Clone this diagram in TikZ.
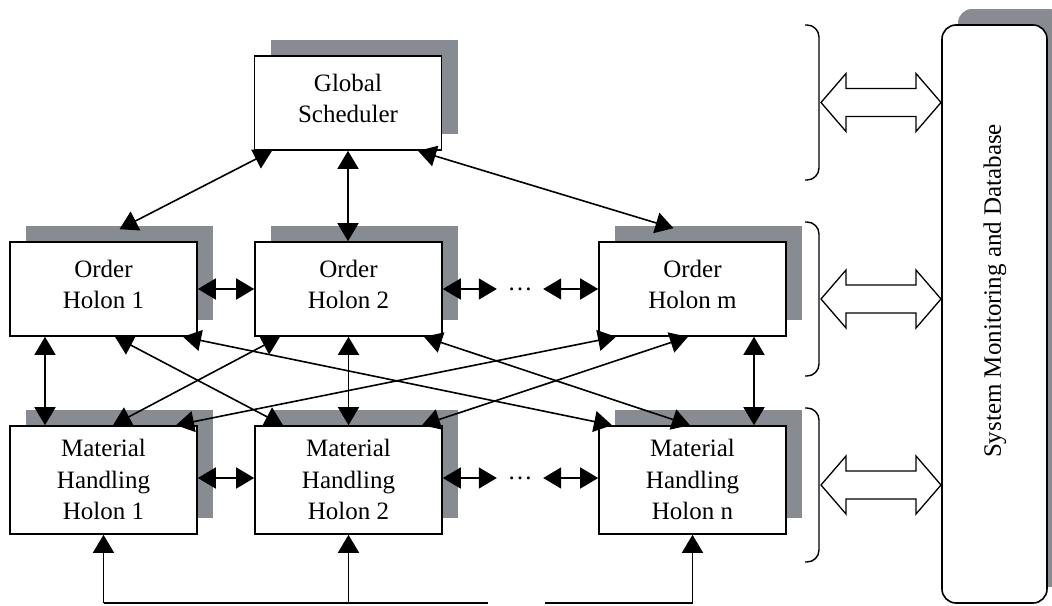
\documentclass[tikz,border=0pt]{standalone}
\usepackage{fontspec}
\setmainfont{Liberation Serif}
\usetikzlibrary{arrows.meta,shadows}
\definecolor{sombra}{HTML}{878C93}

\begin{document}
\begin{tikzpicture}[
  x=1pt, y=-1pt,
  font=\fontsize{25}{31.5}\selectfont,
  holon/.style={rectangle, draw=black, line width=1.6pt, fill=white, minimum width=187pt, minimum height=94pt, inner sep=0pt, align=center, text depth=9pt,
    drop shadow={shadow xshift=16pt, shadow yshift=16pt, fill=sombra, opacity=1}},
  mholon/.style={holon, minimum height=108pt, text depth=1pt},
  dbase/.style={holon, rounded corners=14pt, minimum width=105pt, minimum height=578pt},
  puntos/.style={inner sep=0pt, minimum width=46pt, minimum height=20pt},
  flecha/.style={{Triangle[length=18pt,width=21pt]}-{Triangle[length=18pt,width=21pt]}, line width=1.6pt},
  fsube/.style={-{Triangle[length=18pt,width=21pt]}, line width=1.6pt},
  linea/.style={line width=1.6pt},
  llave/.style={line width=1.4pt, rounded corners=12pt},
  hueca/.style={line width=1.3pt, fill=white, line join=miter}
]
\useasboundingbox (0,0) rectangle (1052,605);

% holons
\node[holon] (gs) at (348,103) {Global\\Scheduler};
\node[holon] (oh1) at (103.5,289) {Order\\Holon 1};
\node[holon] (oh2) at (348.5,289) {Order\\Holon 2};
\node[holon] (ohm) at (692.5,289) {Order\\Holon m};
\node[mholon] (mh1) at (103.5,480) {Material\\Handling\\Holon 1};
\node[mholon] (mh2) at (348.5,480) {Material\\Handling\\Holon 2};
\node[mholon] (mhn) at (692.5,480) {Material\\Handling\\Holon n};
\node[puntos] (pto1) at (520,289) {\dots};
\node[puntos] (pto2) at (520,478) {\dots};

% database
\node[dbase] (db) at (994.5,314) {};
\node[rotate=90] (dbtxt) at (995,291) {System Monitoring and Database};

% scheduler links
\draw[flecha] ([xshift=-76pt]gs.south) -- ([xshift=16pt,yshift=12pt]oh1.north);
\draw[flecha] (gs.south) -- (gs.south |- oh2.north);
\draw[flecha] ([xshift=70pt]gs.south) -- ([xshift=-19pt,yshift=13pt]ohm.north);

% same row
\draw[flecha] (oh1.east) -- (oh2.west);
\draw[flecha] (oh2.east) -- (pto1.west);
\draw[flecha] (pto1.east) -- (ohm.west);
\draw[flecha] ([yshift=2pt]mh1.east) -- ([yshift=2pt]mh2.west);
\draw[flecha] ([yshift=2pt]mh2.east) -- (pto2.west);
\draw[flecha] (pto2.east) -- ([yshift=2pt]mhn.west);

% order <-> material handling
\draw[flecha] ([xshift=-58.5pt]oh1.south) -- ([xshift=-58.5pt]mh1.north);
\draw[flecha] (oh2.south) -- (mh2.north);
\draw[flecha] ([xshift=61.5pt]ohm.south) -- ([xshift=61.5pt]mhn.north);
\draw[flecha] ([xshift=11.5pt]oh1.south) -- ([xshift=-65.5pt]mh2.north);
\draw[flecha] ([xshift=79.5pt]oh1.south) -- ([xshift=-80.5pt]mhn.north);
\draw[flecha] ([xshift=-68.5pt]oh2.south) -- ([xshift=9.5pt]mh1.north);
\draw[flecha] ([xshift=75.5pt]oh2.south) -- ([xshift=-2.5pt]mhn.north);
\draw[flecha] ([xshift=-76.5pt]ohm.south) -- ([xshift=72.5pt]mh1.north);
\draw[flecha] ([xshift=-4.5pt]ohm.south) -- ([xshift=73.5pt]mh2.north);

% feedback at the bottom
\coordinate (ret1) at (488,603);
\coordinate (ret2) at (545,603);
\draw[linea] (mh1.south |- ret1) -- (ret1);
\draw[linea] (ret2) -- (mhn.south |- ret2);
\draw[fsube] (mh1.south |- ret1) -- (mh1.south);
\draw[fsube] (mh2.south |- ret1) -- (mh2.south);
\draw[fsube] (mhn.south |- ret2) -- (mhn.south);

% braces and links to the database
\foreach \ya/\yb in {25/180, 222/376, 408/562} {
  \draw[llave] (805,\ya) -- (819,\ya) -- (819,\yb) -- (805,\yb);
  \pgfmathsetmacro\yc{(\ya+\yb)/2}
  \draw[hueca] (821,\yc) -- ++(25,-29) -- ++(0,15) -- ++(70,0) -- ++(0,-15) -- ++(25,29)
    -- ++(-25,29) -- ++(0,-15) -- ++(-70,0) -- ++(0,15) -- cycle;
}
\end{tikzpicture}
\end{document}
